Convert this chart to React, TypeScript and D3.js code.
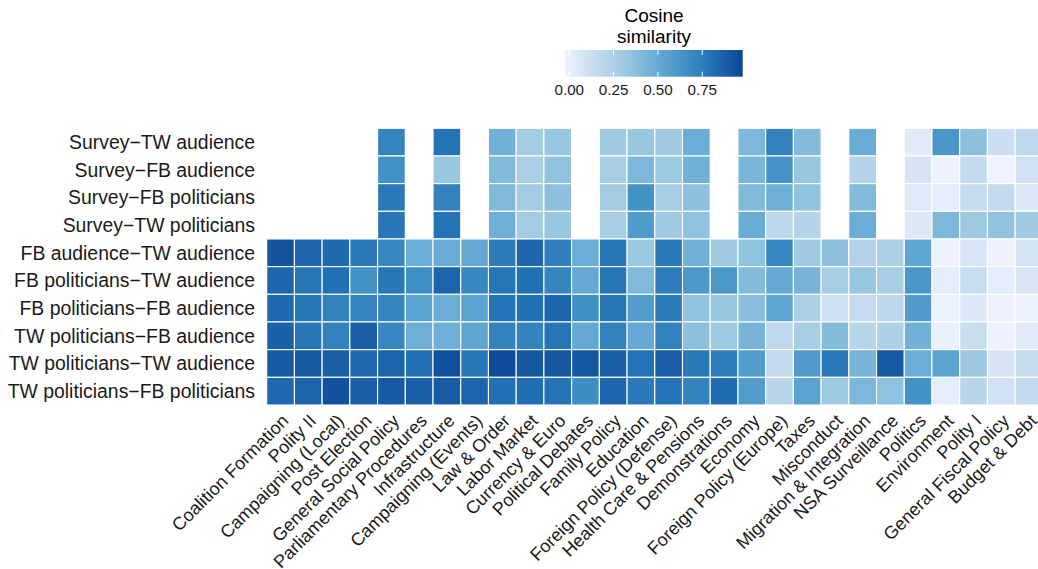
import React from "react";
import * as d3 from "d3";

const topics = [
  "Coalition Formation", "Polity II", "Campaigning (Local)", "Post Election",
  "General Social Policy", "Parliamentary Procedures", "Infrastructure",
  "Campaigning (Events)", "Law & Order", "Labor Market", "Currency & Euro",
  "Political Debates", "Family Policy", "Education", "Foreign Policy (Defense)",
  "Health Care & Pensions", "Demonstrations", "Economy", "Foreign Policy (Europe)",
  "Taxes", "Misconduct", "Migration & Integration", "NSA Surveillance", "Politics",
  "Environment", "Polity I", "General Fiscal Policy", "Budget & Debt",
];

const pairs = [
  "Survey\u2212TW audience",
  "Survey\u2212FB audience",
  "Survey\u2212FB politicians",
  "Survey\u2212TW politicians",
  "FB audience\u2212TW audience",
  "FB politicians\u2212TW audience",
  "FB politicians\u2212FB audience",
  "TW politicians\u2212FB audience",
  "TW politicians\u2212TW audience",
  "TW politicians\u2212FB politicians",
];

type V = number | null;
const surveyTwAudience: V[] = [null, null, null, null, 0.71, null, 0.80, null, 0.46, 0.29, 0.33, null, 0.30, 0.33, 0.30, 0.48, null, 0.42, 0.73, 0.40, null, 0.49, null, 0.035, 0.62, 0.37, 0.12, 0.17];
const surveyFbAudience: V[] = [null, null, null, null, 0.645, null, 0.33, null, 0.40, 0.26, 0.35, null, 0.27, 0.42, 0.31, 0.46, null, 0.43, 0.63, 0.33, null, 0.22, null, 0.08, -0.02, 0.15, -0.024, 0.10];
const surveyFbPoliticians: V[] = [null, null, null, null, 0.77, null, 0.73, null, 0.41, 0.29, 0.37, null, 0.29, 0.64, 0.28, 0.37, null, 0.41, 0.47, 0.35, null, 0.40, null, 0.04, 0.02, 0.14, 0.15, 0.055];
const surveyTwPoliticians: V[] = [null, null, null, null, 0.78, null, 0.80, null, 0.47, 0.29, 0.33, null, 0.27, 0.59, 0.30, 0.36, null, 0.49, 0.185, 0.21, null, 0.48, null, 0.05, 0.42, 0.31, 0.35, 0.30];
const fbAudienceTwAudience: V[] = [0.92, 0.85, 0.84, 0.77, 0.70, 0.48, 0.49, 0.51, 0.76, 0.85, 0.74, 0.48, 0.78, 0.32, 0.77, 0.46, 0.30, 0.36, 0.70, 0.30, 0.37, 0.22, 0.25, 0.53, -0.02, 0.07, -0.02, 0.09];
const fbPoliticiansTwAudience: V[] = [0.85, 0.79, 0.81, 0.645, 0.78, 0.66, 0.86, 0.70, 0.79, 0.81, 0.71, 0.51, 0.79, 0.41, 0.75, 0.61, 0.61, 0.40, 0.51, 0.44, 0.28, 0.33, 0.27, 0.62, 0.02, 0.13, 0.02, 0.07];
const fbPoliticiansFbAudience: V[] = [0.84, 0.79, 0.72, 0.71, 0.71, 0.55, 0.48, 0.55, 0.80, 0.81, 0.86, 0.66, 0.79, 0.58, 0.76, 0.35, 0.33, 0.38, 0.53, 0.25, 0.11, 0.14, 0.185, 0.59, -0.01, 0.045, -0.02, -0.01];
const twPoliticiansFbAudience: V[] = [0.87, 0.79, 0.73, 0.88, 0.70, 0.47, 0.47, 0.53, 0.73, 0.72, 0.79, 0.51, 0.73, 0.51, 0.73, 0.37, 0.31, 0.44, 0.18, 0.27, 0.40, 0.20, 0.25, 0.46, 0.00, 0.13, -0.02, 0.035];
const twPoliticiansTwAudience: V[] = [0.90, 0.90, 0.88, 0.84, 0.86, 0.81, 0.93, 0.78, 0.95, 0.91, 0.91, 0.91, 0.87, 0.80, 0.88, 0.77, 0.75, 0.58, 0.15, 0.59, 0.77, 0.44, 0.90, 0.48, 0.55, 0.32, 0.08, 0.14];
const twPoliticiansFbPoliticians: V[] = [0.84, 0.85, 0.93, 0.88, 0.90, 0.87, 0.89, 0.86, 0.81, 0.82, 0.80, 0.67, 0.85, 0.77, 0.80, 0.72, 0.83, 0.58, 0.20, 0.55, 0.31, 0.42, 0.36, 0.645, 0.02, 0.20, 0.10, 0.15];

const rowValues: V[][] = [
  surveyTwAudience, surveyFbAudience, surveyFbPoliticians, surveyTwPoliticians,
  fbAudienceTwAudience, fbPoliticiansTwAudience, fbPoliticiansFbAudience,
  twPoliticiansFbAudience, twPoliticiansTwAudience, twPoliticiansFbPoliticians,
];

const legendTicks = [0, 0.25, 0.5, 0.75];
const colorLimits = [-0.024, 0.978];
const blues7 = ["#EFF3FF", "#C6DBEF", "#9ECAE1", "#6BAED6", "#4292C6", "#2171B5", "#084594"];

const FONT = "'Liberation Sans', Arial, Helvetica, sans-serif";

export default function App() {
  const W = 1038, H = 569;
  const cell = 27.72;
  const x0 = 266.7, y0 = 128.3;
  const x = d3.scaleBand<string>().domain(topics).range([x0, x0 + cell * topics.length]);
  const y = d3.scaleBand<string>().domain(pairs).range([y0, y0 + 27.67 * pairs.length]);

  const stops = d3.range(blues7.length).map(i => colorLimits[0] + (i / (blues7.length - 1)) * (colorLimits[1] - colorLimits[0]));
  const color = d3.scaleLinear<string>().domain(stops).range(blues7).interpolate(d3.interpolateLab);

  const lgX = d3.scaleLinear().domain(colorLimits).range([565, 742.7]);
  const barTop = 50, barH = 26.7;
  const gradStops = d3.range(0, 1.0001, 0.05);

  const cells: { r: string; c: string; v: number }[] = [];
  pairs.forEach((p, i) => {
    rowValues[i].forEach((v, j) => {
      if (v !== null) cells.push({ r: p, c: topics[j], v });
    });
  });

  const gridBottom = y.range()[1];

  return (
    <svg width={W} height={H} style={{ position: "absolute", left: 0, top: 0, display: "block", background: "#fff" }} fontFamily={FONT}>
      <defs>
        <linearGradient id="lg" x1="0" x2="1" y1="0" y2="0">
          {gradStops.map(t => (
            <stop key={t} offset={`${t * 100}%`} stopColor={color(colorLimits[0] + t * (colorLimits[1] - colorLimits[0]))} />
          ))}
        </linearGradient>
      </defs>
      <g>
        {cells.map(d => (
          <rect key={d.r + d.c} x={x(d.c)} y={y(d.r)} width={x.bandwidth()} height={y.bandwidth()}
            fill={color(d.v)} stroke="#fff" strokeWidth={1.1} />
        ))}
      </g>
      <g>
        {pairs.map(p => (
          <text key={p} x={255} y={(y(p) as number) + y.bandwidth() / 2} textAnchor="end" dominantBaseline="central"
            fontSize={19.4} fill="#1a1a1a">{p}</text>
        ))}
      </g>
      <g>
        {topics.map(t => (
          <text key={t} transform={`translate(${(x(t) as number) + x.bandwidth() / 2 + 9},${gridBottom + 17}) rotate(-45)`}
            textAnchor="end" fontSize={18} fill="#1a1a1a">{t}</text>
        ))}
      </g>
      <g>
        <text x={654} y={15} textAnchor="middle" dominantBaseline="central" fontSize={19} fill="#000">Cosine</text>
        <text x={654} y={36} textAnchor="middle" dominantBaseline="central" fontSize={19} fill="#000">similarity</text>
        <rect x={lgX(colorLimits[0])} y={barTop} width={lgX(colorLimits[1]) - lgX(colorLimits[0])} height={barH} fill="url(#lg)" />
        {legendTicks.map(t => (
          <g key={t}>
            <line x1={lgX(t)} x2={lgX(t)} y1={barTop} y2={barTop + 5} stroke="#fff" strokeWidth={1} />
            <line x1={lgX(t)} x2={lgX(t)} y1={barTop + barH - 5} y2={barTop + barH} stroke="#fff" strokeWidth={1} />
            <text x={lgX(t)} y={89} textAnchor="middle" dominantBaseline="central" fontSize={15.2} fill="#1a1a1a">{d3.format(".2f")(t)}</text>
          </g>
        ))}
      </g>
    </svg>
  );
}
